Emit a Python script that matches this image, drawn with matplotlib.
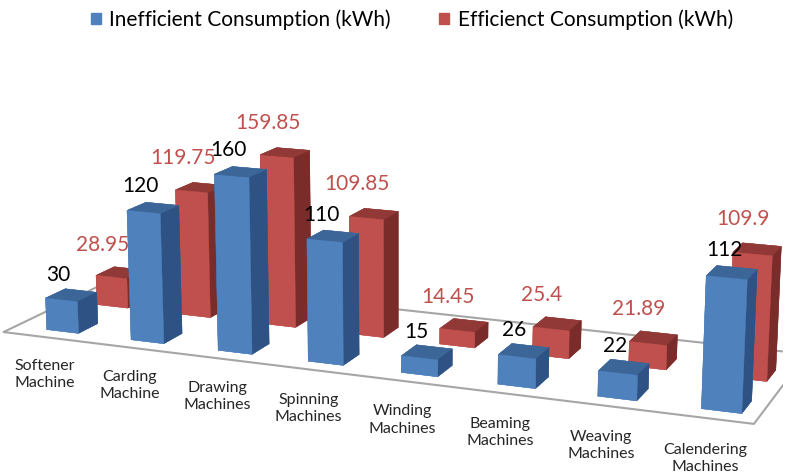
import numpy as np
import matplotlib.pyplot as plt
from matplotlib.patches import Patch
from mpl_toolkits.mplot3d.art3d import Poly3DCollection

plt.rcParams['font.family'] = ['Lato', 'DejaVu Sans']

categories = ['Softener\nMachine', 'Carding\nMachine', 'Drawing\nMachines', 'Spinning\nMachines',
              'Winding\nMachines', 'Beaming\nMachines', 'Weaving\nMachines', 'Calendering\nMachines']
inefficient = [30, 120, 160, 110, 15, 26, 22, 112]
efficient = [28.95, 119.75, 159.85, 109.85, 14.45, 25.4, 21.89, 109.9]
inefficient_labels = ['30', '120', '160', '110', '15', '26', '22', '112']
efficient_labels = ['28.95', '119.75', '159.85', '109.85', '14.45', '25.4', '21.89', '109.9']
series_names = ['Inefficient Consumption (kWh)', 'Efficienct Consumption (kWh)']

# face colours: -z, +z, -y (front), +y, -x, +x (side)
blue_faces = ['#4F81BD', '#3C6598', '#4F81BD', '#3C6598', '#3C6598', '#2F5284']
red_faces = ['#C0504D', '#913936', '#C0504D', '#913936', '#913936', '#7A2C2A']

n = len(categories)
xpos = np.arange(n)
bw = 0.38   # bar width (x)
bd = 0.40   # bar depth (y)
yrow = [0, 1.05]   # depth of the two series rows

fig = plt.figure(figsize=(7.92, 4.75), dpi=100)
# 3d axes are forced square, so give a tall box and let it shrink to the figure width
ax = fig.add_axes([-0.011, -0.49, 1, 1.9], projection='3d')
ax.set_proj_type('persp', focal_length=0.5)
ax.view_init(elev=14, azim=-68)
ax.computed_zorder = False

xlo, xhi = -0.56, n - 1 + 0.36
ylo, yhi = -0.25, 2.1
ax.set_xlim(xlo, xhi)
ax.set_ylim(ylo, yhi)
ax.set_zlim(0, 180)
ax.set_box_aspect((xhi - xlo, yhi - ylo, 2.05), zoom=1.03)
ax.set_axis_off()

# floor
floor = Poly3DCollection([[(xlo, ylo, 0), (xhi, ylo, 0), (xhi, yhi, 0), (xlo, yhi, 0)]],
                         facecolor='white', edgecolor='#A6A6A6', linewidth=1.5, zorder=0)
ax.add_collection3d(floor)

# bars: red row behind, blue row in front, all in one collection
bx = np.concatenate([xpos - bw / 2, xpos - bw / 2])
by = np.concatenate([np.full(n, yrow[0]), np.full(n, yrow[1])])
bz = np.zeros(2 * n)
dz = np.concatenate([inefficient, efficient])
cols = blue_faces * n + red_faces * n
ax.bar3d(bx, by, bz, bw, bd, dz, color=cols, edgecolor=cols, linewidth=0.3,
         shade=False, zorder=1)

for i in range(n):
    ax.text(xpos[i] - 0.03, yrow[0], inefficient[i] + 14, inefficient_labels[i],
            ha='center', va='bottom', fontsize=15, color='black', zorder=5)
    ax.text(xpos[i] - 0.1, yrow[1], efficient[i] + 21, efficient_labels[i],
            ha='center', va='bottom', fontsize=15, color='#C0504D', zorder=5)
    ax.text(xpos[i] - 0.08, ylo, -21, categories[i], ha='center', va='top',
            fontsize=11.5, color='#262626', zorder=5, linespacing=1.3)

handles = [Patch(color=blue_faces[2]), Patch(color=red_faces[2])]
fig.legend(handles, series_names, loc='upper center', bbox_to_anchor=(0.52, 1.02), ncol=2,
           frameon=False, fontsize=15, handlelength=0.5, handleheight=0.5,
           handletextpad=0.4, columnspacing=2.3)

fig.savefig('out.png', dpi=100)
